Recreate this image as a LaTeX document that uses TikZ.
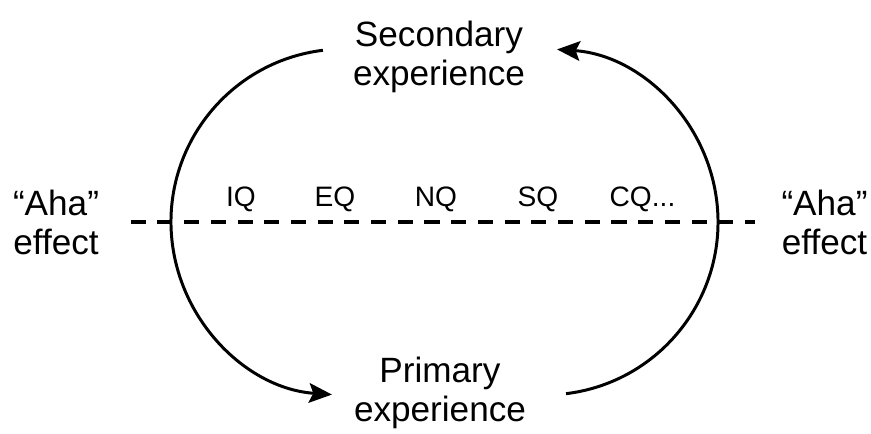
\documentclass[tikz,border=0pt]{standalone}
\usepackage{fontspec}
\setmainfont{Liberation Sans}
\usetikzlibrary{arrows.meta}

\tikzset{
    lbl/.style={font=\fontsize{10}{11.2}\selectfont, align=center, inner sep=0pt, anchor=base},
    qlbl/.style={font=\fontsize{8}{9}\selectfont, inner sep=0pt, anchor=base},
    flow/.style={line width=0.85pt, -{Stealth[length=6.5pt, width=5.6pt, inset=1.2pt]}},
    dashline/.style={line width=0.9pt, dash pattern=on 4.3pt off 3.3pt},
}

\begin{document}
\begin{tikzpicture}
    \useasboundingbox (0, 0) rectangle (8.71, 4.34);

    % 上下两个经验 (基线为末行)
    \node[lbl] (sec) at (4.39, 3.48) {Secondary\\experience};
    \node[lbl] (prim) at (4.40, 0.12) {Primary\\experience};

    % 两侧
    \node[lbl] (ahaL) at (0.56, 1.79) {“Aha”\\effect};
    \node[lbl] (ahaR) at (8.245, 1.79) {“Aha”\\effect};

    % 中间的 Q
    \node[qlbl] (iq) at (2.41, 2.27) {IQ};
    \node[qlbl] (eq) at (3.35, 2.27) {EQ};
    \node[qlbl] (nq) at (4.36, 2.27) {NQ};
    \node[qlbl] (sq) at (5.38, 2.27) {SQ};
    \node[qlbl] (cq) at (6.425, 2.27) {CQ...};

    % 虚线
    \coordinate (mid) at (4.40, 2.12);
    \draw[dashline, shorten <=0.31cm, shorten >=0.26cm] (ahaL.east |- mid) -- (ahaR.west |- mid);

    % 左弧: 上 -> 下
    \coordinate (topL) at (3.229, 3.837);
    \draw[flow] (topL) arc[start angle=97, end angle=266, radius=1.73];

    % 右弧: 下 -> 上
    \coordinate (botR) at (5.661, 0.403);
    \draw[flow] (botR) arc[start angle=-83, end angle=86, radius=1.73];
\end{tikzpicture}
\end{document}
